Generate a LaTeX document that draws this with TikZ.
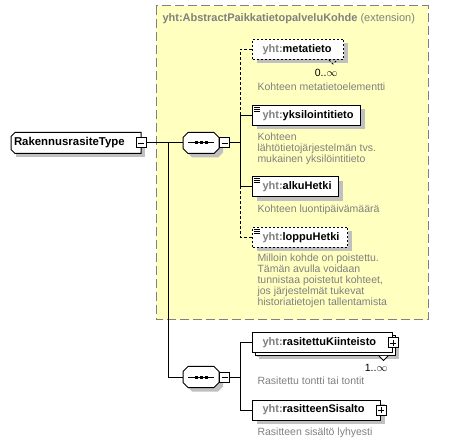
\documentclass[tikz,border=0pt]{standalone}
\usepackage{fontspec}
\setmainfont{Liberation Sans}
\usetikzlibrary{shadows,positioning}
\definecolor{extfill}{RGB}{255,255,192}
\definecolor{pfxgray}{RGB}{128,128,128}
\definecolor{shadowgray}{RGB}{192,192,192}
\definecolor{descgray}{RGB}{128,128,128}
\newcommand{\namefont}{\fontsize{11}{13}\selectfont\bfseries}
\newcommand{\descfont}{\fontsize{10.5}{11.2}\selectfont}
\newcommand{\ename}[2]{\makebox[#1][l]{\hspace{10pt}\textcolor{pfxgray}{yht:}#2}}
\tikzset{every picture/.style={line width=1pt}}
\tikzset{
  boxshadow/.style={drop shadow={shadow xshift=4pt,shadow yshift=-4pt,fill=shadowgray,opacity=1}},
  elem/.style={draw,fill=white,inner xsep=0pt,inner ysep=0pt,minimum height=20pt,anchor=west,font=\namefont,boxshadow},
  optelem/.style={elem,dash pattern=on 2pt off 2pt},
  manyelem/.style={elem,drop shadow={shadow xshift=6pt,shadow yshift=-6pt,fill=shadowgray,opacity=1},
    copy shadow={shadow xshift=2.5pt,shadow yshift=-2.5pt,draw=black,fill=white}},
  seqbox/.style={rectangle,minimum width=35pt,minimum height=20pt,inner sep=0pt,anchor=west},
  minusbox/.style={draw,fill=white,rectangle,minimum size=10pt,inner sep=0pt,
    path picture={\draw[line width=0.8pt] ([xshift=2pt]path picture bounding box.west) -- ([xshift=-2pt]path picture bounding box.east);}},
  plusbox/.style={minusbox,
    path picture={\draw[line width=0.8pt] ([xshift=2pt]path picture bounding box.west) -- ([xshift=-2pt]path picture bounding box.east);
      \draw[line width=0.8pt] ([yshift=-2pt]path picture bounding box.north) -- ([yshift=2pt]path picture bounding box.south);}},
  desc/.style={anchor=north west,align=left,inner sep=0pt,font=\descfont,text=descgray},
  mult/.style={anchor=east,inner sep=0pt,font=\fontsize{10.5}{13}\selectfont},
  optline/.style={dash pattern=on 3pt off 2pt}
}
\newcommand{\simpleicon}[1]{%
  \foreach \d in {2,4,6}
    \draw[line width=0.7pt] ([xshift=2pt,yshift=-\d pt]#1.north west) -- ++(6,0);}
% octagon of a sequence compositor, drawn round an empty node
\newcommand{\seqshape}[1]{%
  \draw[fill=white,boxshadow] ([xshift=5pt]#1.north west) -- ([xshift=-5pt]#1.north east)
    -- ([yshift=-5pt]#1.north east) -- ([yshift=5pt]#1.south east) -- ([xshift=-5pt]#1.south east)
    -- ([xshift=5pt]#1.south west) -- ([yshift=5pt]#1.south west) -- ([yshift=-5pt]#1.north west) -- cycle;
  \draw ([xshift=5pt]#1.west) -- ([xshift=-5pt]#1.east);
  \foreach \d in {-5,0,5}
    \fill ([xshift=\d pt]#1.center) +(-1.5,-1.5) rectangle +(1.5,1.5);}

\begin{document}
\begin{tikzpicture}[x=1pt,y=-1pt]
  \useasboundingbox (0,0) rectangle (471,443);

  % extension frame
  \draw[pfxgray,dash pattern=on 9pt off 4pt,fill=extfill] (156,6) rectangle (428,320);
  \node[anchor=west,inner sep=0pt,font=\namefont,text=pfxgray] (ext) at (162,19)
    {yht:AbstractPaikkatietopalveluKohde\mdseries\ (extension)};

  % root type
  \node[fill=white,boxshadow,minimum width=129pt,minimum height=20pt,inner sep=0pt,
    font=\fontsize{11.4}{13}\selectfont\bfseries,anchor=west] (root) at (11,143)
    {\makebox[124pt][l]{RakennusrasiteType}};
  \draw ([xshift=4pt]root.north west) -- (root.north east) -- (root.south east)
    -- ([xshift=4pt]root.south west) -- ([yshift=4pt]root.south west)
    -- ([yshift=-4pt]root.north west) -- cycle;
  \node[minusbox] (rootm) at (root.east) {};

  % upper sequence
  \node[seqbox] (seqA) at (183,143) {};
  \seqshape{seqA}
  \node[minusbox,anchor=west] (seqAm) at (seqA.east) {};
  \coordinate (busA) at ([xshift=10pt]seqAm.east);

  \node[optelem] (meta) at (252,49.5) {\ename{91pt}{metatieto}};
  \draw[dash pattern=on 2pt off 2pt] ([xshift=-15pt]meta.south east) -- ++(4,4) -- ++(4,-4);
  \node[mult] (metam) at ([xshift=-6pt,yshift=-13pt]meta.south east) {0..$\infty$};
  \node[desc] (metad) at (257,82.5) {Kohteen metatietoelementti};

  \node[elem] (yks) at (252,115.5) {\ename{108pt}{yksilointitieto}};
  \simpleicon{yks}
  \node[desc] (yksd) at (257,132) {Kohteen\\lähtötietojärjestelmän tvs.\\mukainen yksilöintitieto};

  \node[elem] (alku) at (252,187) {\ename{86pt}{alkuHetki}};
  \simpleicon{alku}
  \node[desc] (alkud) at (257,204) {Kohteen luontipäivämäärä};

  \node[optelem] (loppu) at (252,237.5) {\ename{95pt}{loppuHetki}};
  \simpleicon{loppu}
  \node[desc] (loppud) at (257,253) {Milloin kohde on poistettu.\\Tämän avulla voidaan\\tunnistaa poistetut kohteet,\\jos järjestelmät tukevat\\historiatietojen tallentamista};

  % lower sequence
  \coordinate (split) at ([xshift=22pt]rootm.east);
  \node[seqbox] (seqB) at (183,377) {};
  \seqshape{seqB}
  \node[minusbox,anchor=west] (seqBm) at (seqB.east) {};
  \coordinate (busB) at ([xshift=10pt]seqBm.east);

  \node[manyelem] (rasi) at (252,343) {\ename{140pt}{rasitettuKiinteisto}};
  \node[plusbox] (rasip) at (rasi.east) {};
  \draw[fill=white] ([xshift=-14pt,yshift=-2.5pt]rasi.south east) -- ++(4.5,4.5) -- ++(4.5,-4.5);
  \node[mult] (rasim) at ([xshift=-5pt,yshift=-14.5pt]rasi.south east) {1..$\infty$};
  \node[desc] (rasid) at (257,376) {Rasitettu tontti tai tontit};

  \node[elem] (sis) at (252,410) {\ename{128pt}{rasitteenSisalto}};
  \node[plusbox] (sisp) at (sis.east) {};
  \node[desc] (sisd) at (257,427) {Rasitteen sisältö lyhyesti};

  % connectors
  \draw (rootm.east) -- (seqA.west);
  \draw (seqAm.east) -- (busA);
  \draw[optline] (meta.west) -| (busA |- yks.west);
  \draw (yks.west) -| (busA |- alku.west) -- (alku.west);
  \draw[optline] (loppu.west) -| (busA |- alku.west);
  \draw (split) |- (seqB.west);
  \draw (seqBm.east) -- (busB);
  \draw (rasi.west) -| (busB |- sis.west) -- (sis.west);
\end{tikzpicture}
\end{document}
